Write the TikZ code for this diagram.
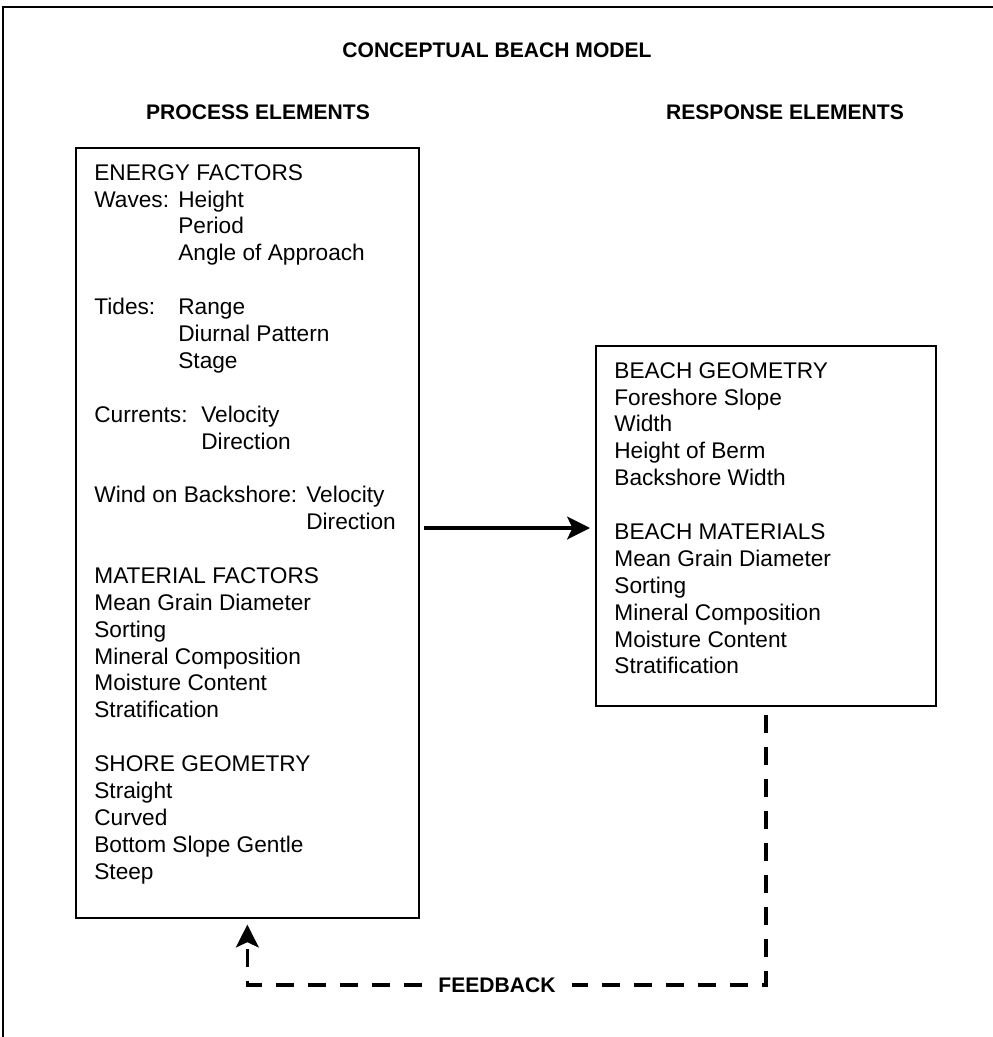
\documentclass[tikz,border=0pt]{standalone}
\usepackage{fontspec}
\setmainfont{Liberation Sans}
\usetikzlibrary{arrows.meta}
\newcommand{\boxfont}{\fontsize{12.9}{15.3}\selectfont}
\newcommand{\tabto}[2]{\makebox[#1][l]{#2}}

\begin{document}
\begin{tikzpicture}[x=0.02cm, y=-0.02cm,
  head/.style={font=\fontsize{12}{14}\selectfont\bfseries},
  panel/.style={draw, line width=1pt, anchor=north west, inner xsep=0.37cm, inner ysep=0.33cm, font=\boxfont},
  tip/.style={-{Stealth[length=13pt,width=13pt,inset=3pt]}},
  link/.style={line width=1.8pt, tip},
  fbline/.style={line width=1.9pt, dash pattern=on 0.36cm off 0.28cm}]
\useasboundingbox (0,0) rectangle (993,1037);
\draw[line width=0.8pt] (3,1037) -- (3,7) -- (993,7);
% headings
\node[head] (title) at (497,50) {CONCEPTUAL BEACH MODEL};
\node[head] (prochead) at (258,112) {PROCESS ELEMENTS};
\node[head] (resphead) at (785,112) {RESPONSE ELEMENTS};
% process box
\node[panel] (lbox) at (75,147) {\parbox[t][14.74cm][t]{6.12cm}{%
ENERGY FACTORS\\
\tabto{1.68cm}{Waves:}Height\\
\hspace*{1.68cm}Period\\
\hspace*{1.68cm}Angle of Approach\\[\baselineskip]
\tabto{1.68cm}{Tides:}Range\\
\hspace*{1.68cm}Diurnal Pattern\\
\hspace*{1.68cm}Stage\\[\baselineskip]
\tabto{2.14cm}{Currents:}Velocity\\
\hspace*{2.14cm}Direction\\[\baselineskip]
\tabto{4.24cm}{Wind on Backshore:}Velocity\\
\hspace*{4.24cm}Direction\\[\baselineskip]
MATERIAL FACTORS\\
Mean Grain Diameter\\
Sorting\\
Mineral Composition\\
Moisture Content\\
Stratification\\[\baselineskip]
SHORE GEOMETRY\\
Straight\\
Curved\\
Bottom Slope Gentle\\
Steep}};
% response box
\node[panel] (rbox) at (595,345) {\parbox[t][6.54cm][t]{6.06cm}{%
BEACH GEOMETRY\\
Foreshore Slope\\
Width\\
Height of Berm\\
Backshore Width\\[\baselineskip]
BEACH MATERIALS\\
Mean Grain Diameter\\
Sorting\\
Mineral Composition\\
Moisture Content\\
Stratification}};
\coordinate (lvl) at (500,528);
\draw[link, shorten <=0.08cm, shorten >=0.1cm] (lbox.east |- lvl) -- (rbox.west |- lvl);
% feedback loop
\node[head, fill=white, inner xsep=0.33cm] (fbtag) at (497,985) {FEEDBACK};
\draw[fbline, shorten <=0.16cm] (rbox.south) |- (fbtag.east);
\draw[fbline, tip, shorten >=0.12cm] (fbtag.west) -| (lbox.south);
\end{tikzpicture}
\end{document}
